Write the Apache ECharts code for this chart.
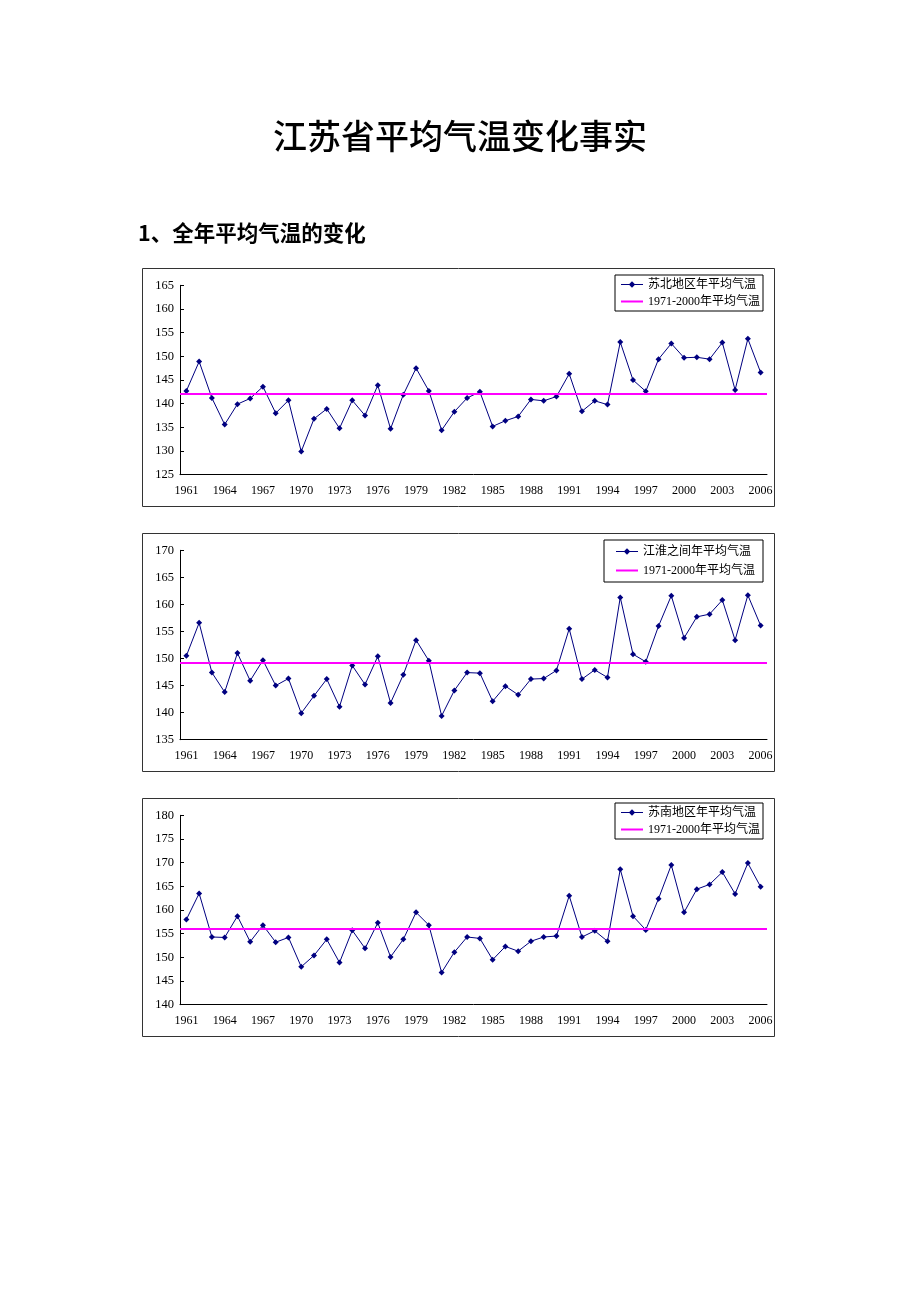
<!DOCTYPE html>
<html>
<head>
<meta charset="utf-8">
<script src="https://cdn.jsdelivr.net/npm/echarts@6/dist/echarts.min.js"></script>
<style>
  html, body { margin: 0; padding: 0; background: #fff; }
  #main { width: 920px; height: 1302px; }
</style>
</head>
<body>
<div id="main"></div>
<script>
// 年份 1961-2006
const years = ['1961','1962','1963','1964','1965','1966','1967','1968','1969','1970',
  '1971','1972','1973','1974','1975','1976','1977','1978','1979','1980',
  '1981','1982','1983','1984','1985','1986','1987','1988','1989','1990',
  '1991','1992','1993','1994','1995','1996','1997','1998','1999','2000',
  '2001','2002','2003','2004','2005','2006']

// 苏北地区年平均气温 (0.1℃)
const subeiTemps = [142.7, 148.9, 141.2, 135.6, 139.9, 141.1, 143.6, 138.0, 140.7, 129.9,
  136.8, 138.9, 134.8, 140.7, 137.5, 143.9, 134.7, 141.9, 147.5, 142.7,
  134.4, 138.3, 141.2, 142.5, 135.2, 136.4, 137.3, 140.9, 140.6, 141.5,
  146.3, 138.4, 140.6, 139.8, 153.0, 145.0, 142.6, 149.4, 152.7, 149.7,
  149.8, 149.4, 152.9, 142.9, 153.7, 146.6]

// 江淮之间年平均气温
const jianghuaiTemps = [150.5, 156.6, 147.4, 143.8, 151.0, 145.9, 149.7, 145.0, 146.3, 139.9,
  143.1, 146.2, 141.1, 148.7, 145.2, 150.4, 141.8, 147.0, 153.4, 149.6,
  139.4, 144.1, 147.4, 147.3, 142.1, 144.9, 143.3, 146.2, 146.3, 147.8,
  155.5, 146.2, 147.9, 146.5, 161.3, 150.8, 149.4, 156.0, 161.6, 153.8,
  157.7, 158.2, 160.8, 153.4, 161.7, 156.1]

// 苏南地区年平均气温
const sunanTemps = [158.0, 163.5, 154.3, 154.2, 158.7, 153.3, 156.8, 153.2, 154.2, 148.0,
  150.4, 153.8, 148.9, 155.7, 151.9, 157.3, 150.1, 153.8, 159.5, 156.8,
  146.8, 151.1, 154.3, 154.0, 149.5, 152.3, 151.3, 153.4, 154.3, 154.5,
  163.0, 154.3, 155.6, 153.4, 168.6, 158.7, 155.8, 162.4, 169.5, 159.5,
  164.4, 165.4, 168.0, 163.4, 169.9, 164.9]

// 1971-2000年平均气温
const normals = [142.0, 149.2, 156.1]
const regionNames = ['苏北地区年平均气温', '江淮之间年平均气温', '苏南地区年平均气温']
const normalName = '1971-2000年平均气温'
// y轴范围
const yMins = [125, 135, 140]
const yMaxs = [165, 170, 180]

const allTemps = [subeiTemps, jianghuaiTemps, sunanTemps]
const offsets = [0, 265, 530]
const legendBoxes = [
  { top: 275, right: 157, padding: [3, 3, 3, 5], itemGap: 4 },
  { top: 540, right: 157, padding: [5, 8, 5, 11], itemGap: 6 },
  { top: 803, right: 157, padding: [3, 3, 3, 5], itemGap: 4 }
]

const serif = '"Liberation Serif", "Noto Sans CJK SC", serif'

let mycharts = echarts.init(document.getElementById('main'))

const grids = [], xAxes = [], yAxes = [], series = [], legends = []
const graphics = [
  {
    type: 'text', left: 'center', top: 119,
    style: { text: '江苏省平均气温变化事实', font: '500 34px "Noto Sans CJK SC"', fill: '#000' }
  },
  {
    type: 'text', x: 138, y: 233,
    style: { text: '1、全年平均气温的变化', font: 'bold 21.5px "Noto Sans CJK SC"', fill: '#000', textVerticalAlign: 'middle' }
  }
]

for (let i = 0; i < 3; i++) {
  const off = offsets[i]
  // 外框
  graphics.push({
    type: 'rect', silent: true,
    shape: { x: 142.5, y: 268.5 + off, width: 632, height: 238 },
    style: { fill: 'none', stroke: '#333', lineWidth: 1 }
  })
  grids.push({ left: 180, top: 285.3 + off, width: 587, height: 189.4, outerBoundsMode: 'none' })
  xAxes.push({
    type: 'category', gridIndex: i, data: years, boundaryGap: true,
    axisLine: { lineStyle: { color: '#000', width: 1 } },
    axisTick: { interval: 0, inside: true, length: 4, lineStyle: { color: '#000' } },
    axisLabel: { interval: 2, margin: 10, color: '#000', fontSize: 12, fontFamily: serif },
    splitLine: { show: false }
  })
  yAxes.push({
    type: 'value', gridIndex: i, min: yMins[i], max: yMaxs[i], interval: 5,
    axisLine: { show: true, lineStyle: { color: '#000', width: 1 } },
    axisTick: { show: true, inside: true, length: 4, lineStyle: { color: '#000' } },
    axisLabel: { margin: 6, color: '#000', fontSize: 12.5, fontFamily: serif },
    splitLine: { show: false }
  })
  series.push({
    name: regionNames[i], type: 'line', xAxisIndex: i, yAxisIndex: i,
    data: allTemps[i],
    symbol: 'diamond', symbolSize: 6,
    lineStyle: { color: '#000080', width: 1 },
    itemStyle: { color: '#000080' },
    animation: false
  })
  // 平均线
  series.push({
    name: normalName, type: 'line', xAxisIndex: i, yAxisIndex: i,
    data: [], symbol: 'none',
    lineStyle: { color: '#FF00FF', width: 2 },
    itemStyle: { color: '#FF00FF' },
    markLine: {
      silent: true, symbol: ['none', 'none'], animation: false,
      label: { show: false },
      lineStyle: { color: '#FF00FF', type: 'solid', width: 2 },
      data: [{ yAxis: normals[i] }]
    },
    animation: false
  })
  const lb = legendBoxes[i]
  legends.push({
    data: [
      { name: regionNames[i], lineStyle: { width: 1 } },
      { name: normalName, itemStyle: { opacity: 0 }, lineStyle: { width: 2 } }
    ],
    orient: 'vertical', top: lb.top, right: lb.right,
    padding: lb.padding, itemGap: lb.itemGap,
    itemWidth: 22, itemHeight: 8,
    borderColor: '#000', borderWidth: 1, backgroundColor: '#fff',
    textStyle: { fontSize: 12, color: '#000', fontFamily: serif, lineHeight: 13 },
    selectedMode: false
  })
}

mycharts.setOption({
  backgroundColor: '#fff',
  animation: false,
  grid: grids,
  xAxis: xAxes,
  yAxis: yAxes,
  legend: legends,
  series: series,
  graphic: graphics
})
</script>
</body>
</html>
